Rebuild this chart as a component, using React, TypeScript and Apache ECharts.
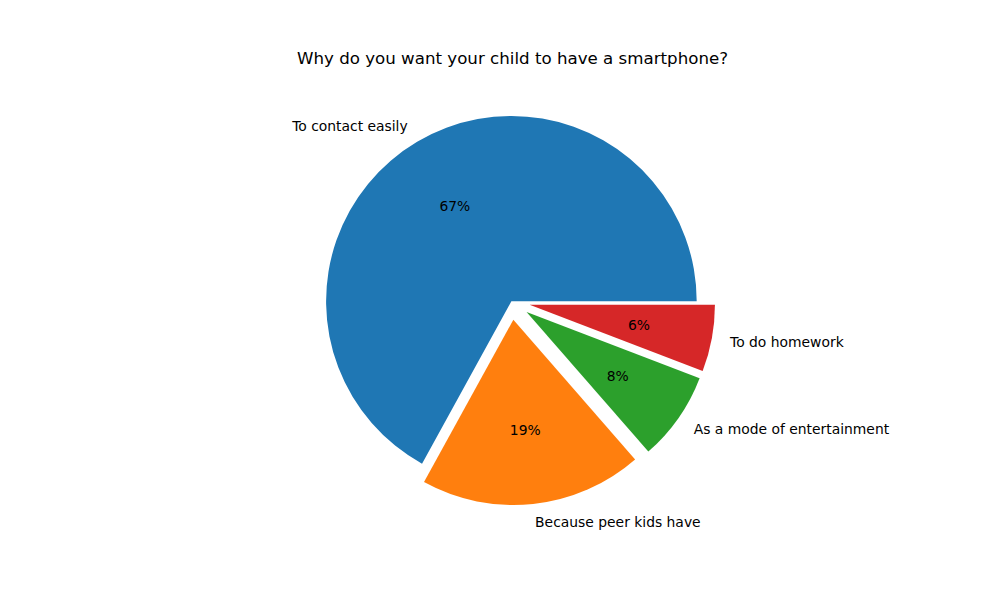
import React, { useEffect, useRef } from "react";
import * as echarts from "echarts";

const categories = ["To contact easily", "Because peer kids have", "As a mode of entertainment", "To do homework"];
const values = [69, 20, 8, 6];
const exploded = [false, true, true, true];
const colors = ["#1f77b4", "#ff7f0e", "#2ca02c", "#d62728"];
const titleText = "Why do you want your child to have a smartphone?";

const FONT = "DejaVu Sans";
const R = 185.3;
const CX = 511.4;
const CY = 301.3;
const EXPLODE = 0.1 * R;

export default function App() {
  const ref = useRef<HTMLDivElement>(null);
  useEffect(() => {
    if (!ref.current) return;
    const chart = echarts.init(ref.current, undefined, { renderer: "svg" });
    const mainData = categories.map((name, i) => ({
      name,
      value: values[i],
      selected: exploded[i],
      itemStyle: { color: colors[i] },
    }));
    const pctData = categories.map((name, i) => ({
      name,
      value: values[i],
      selected: exploded[i],
    }));
    chart.setOption({
      animation: false,
      backgroundColor: "#ffffff",
      title: {
        text: titleText,
        left: 507.5,
        top: 45,
        textAlign: "center",
        textStyle: { fontFamily: FONT, fontSize: 16.67, fontWeight: "normal", color: "#000" },
      },
      series: [
        {
          type: "pie",
          center: [CX, CY],
          radius: [0, R],
          startAngle: 0,
          clockwise: false,
          selectedMode: "multiple",
          selectedOffset: EXPLODE,
          avoidLabelOverlap: false,
          silent: true,
          data: mainData,
          label: {
            show: true,
            position: "outside",
            formatter: "{b}",
            distanceToLabelLine: 0,
            fontFamily: FONT,
            fontSize: 13.89,
            color: "#000",
          },
          labelLine: { show: false, length: 0.1 * R, length2: 0 },
          emphasis: { disabled: true },
        },
        {
          type: "pie",
          center: [CX, CY],
          radius: [0.6 * R * 2 - R - 6, R],
          startAngle: 0,
          clockwise: false,
          selectedMode: "multiple",
          selectedOffset: EXPLODE,
          avoidLabelOverlap: false,
          silent: true,
          data: pctData,
          itemStyle: { color: "rgba(0,0,0,0)" },
          label: {
            show: true,
            position: "inside",
            formatter: (p: any) => Math.round(p.percent) + "%",
            fontFamily: FONT,
            fontSize: 13.89,
            color: "#000",
          },
          labelLine: { show: false },
          emphasis: { disabled: true },
        },
      ],
    });
    return () => chart.dispose();
  }, []);
  return <div ref={ref} style={{ position: "fixed", left: 0, top: 0, width: 1000, height: 600 }} />;
}
